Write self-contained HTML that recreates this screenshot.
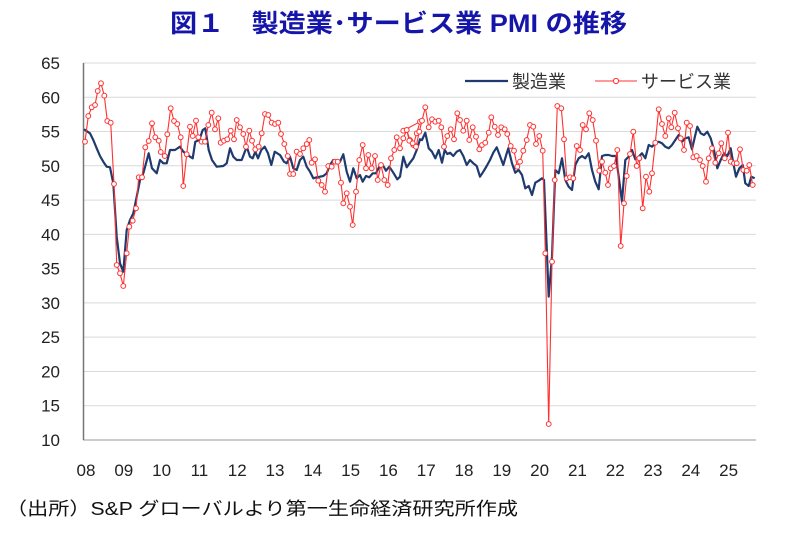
<!DOCTYPE html>
<html><head><meta charset="utf-8"><style>
body{margin:0;background:#fff;width:787px;height:533px;overflow:hidden}
svg{display:block}
text{font-family:"Liberation Sans","Noto Sans CJK JP",sans-serif}
</style></head><body>
<svg id="s" width="787" height="533" xmlns="http://www.w3.org/2000/svg">
<text x="170" y="32" font-size="25" font-weight="bold" fill="#1515aa" textLength="457" lengthAdjust="spacingAndGlyphs">図１　製造業･サービス業 PMI の推移</text>
<g id="grid"></g>
<g id="ylab" font-size="17" fill="#222" text-anchor="end"></g>
<g id="xlab" font-size="17" fill="#222" text-anchor="middle"></g>
<line x1="83.5" y1="63" x2="83.5" y2="440" stroke="#777" stroke-width="1.5"/>
<polyline id="blue" fill="none" stroke="#1f3a6e" stroke-width="2.2" stroke-linejoin="round"/>
<polyline id="red" fill="none" stroke="#ff3030" stroke-width="1.1"/>
<g id="dots" fill="#fff" stroke="#ff3030" stroke-width="1"></g>
<line x1="465" y1="81" x2="508" y2="81" stroke="#1f3a6e" stroke-width="2.2"/>
<text x="512" y="88" font-size="18" fill="#333">製造業</text>
<line x1="595" y1="81" x2="637" y2="81" stroke="#ff3030" stroke-width="1.1"/>
<circle cx="616" cy="81" r="2.6" fill="#fff" stroke="#ff3030"/>
<text x="641" y="88" font-size="18" fill="#333">サービス業</text>
<text x="6" y="515" font-size="18" fill="#111" textLength="512" lengthAdjust="spacingAndGlyphs">（出所）S&amp;P グローバルより第一生命経済研究所作成</text>
</svg>
<script>
var NS="http://www.w3.org/2000/svg";
function el(t,a,p){var e=document.createElementNS(NS,t);for(var k in a)e.setAttribute(k,a[k]);if(p)document.getElementById(p).appendChild(e);return e;}
for(var v=10;v<=65;v+=5){var y=440-(v-10)*6.855;
 el("line",{x1:83,x2:756,y1:y,y2:y,stroke:v==10?"#999":"#d9d9d9","stroke-width":1},"grid");
 var t=el("text",{x:60,y:y+6},"ylab");t.textContent=v;}
var yrs=["08","09","10","11","12","13","14","15","16","17","18","19","20","21","22","23","24","25"];
yrs.forEach(function(s,i){var t=el("text",{x:86+i*37.8,y:476},"xlab");t.textContent=s;});
function z1(p){return [60+p[0]/3,50+p[1]/3];}
function z2(p){return [400+p[0]/3,50+p[1]/3];}
var r1=[[75,275],[85,198],[95,172],[105,165],[113,123],[123,100],[133,137],[142,213],[152,218],[162,402],[170,645],[180,670],[190,708],[200,610],[208,530],[218,512],[228,475],[236,382],[246,382],[256,292],[266,273],[276,220],[286,262],[296,272],[302,306],[314,318],[322,253],[332,175],[342,213],[352,222],[362,262],[370,408],[380,313],[390,230],[398,258],[408,212],[415,262],[425,275],[435,275],[445,225],[455,188],[465,238],[475,205],[482,278],[492,272],[502,268],[512,242],[522,268],[530,210],[540,232],[550,252],[558,290],[568,242],[576,272],[586,298],[596,290],[605,250],[615,192],[625,195],[635,218],[645,222],[655,218],[663,252],[673,282],[683,318],[690,372],[700,372],[710,305],[720,312],[730,295],[740,282],[748,270],[755,338],[765,328],[775,392],[785,405],[795,425],[805,348],[815,350],[825,335],[833,335],[843,398],[850,460],[860,430],[870,470],[878,525],[888,425],[898,330],[908,285],[918,355],[925,315],[935,355],[945,318],[953,390],[963,345],[973,390],[983,405],[993,325],[1003,300],[1010,262],[1020,295],[1030,265],[1040,240],[1050,270],[1060,285],[1070,250],[1080,215]];
var r2=[[10,242],[20,240],[28,272],[38,280],[48,290],[58,245],[66,212],[76,172],[86,232],[96,208],[106,215],[116,212],[124,232],[132,290],[142,258],[152,238],[162,268],[172,190],[180,210],[190,242],[200,212],[208,270],[218,232],[228,260],[238,298],[246,285],[256,278],[266,248],[274,202],[284,230],[294,255],[304,232],[314,238],[322,252],[332,288],[342,302],[352,350],[360,335],[370,302],[380,270],[390,225],[400,230],[408,282],[418,258],[428,302],[436,610],[446,1122],[456,635],[464,390],[472,168],[484,175],[492,268],[500,385],[510,382],[520,385],[530,288],[540,300],[548,225],[558,238],[568,190],[578,210],[588,272],[598,362],[606,335],[616,368],[624,405],[632,355],[642,348],[652,300],[662,588],[672,460],[680,378],[690,312],[700,245],[710,348],[718,325],[728,475],[738,380],[748,425],[756,370],[766,278],[776,178],[786,222],[796,258],[806,205],[814,232],[824,188],[834,235],[842,265],[852,300],[860,218],[870,228],[880,322],[890,318],[900,330],[908,348],[918,395],[926,325],[936,295],[946,338],[956,310],[964,280],[974,325],[984,248],[992,335],[1002,340],[1010,340],[1020,298],[1030,360],[1040,362],[1048,345],[1058,405]];
var b1=[[72,238],[90,250],[100,270],[110,295],[120,318],[130,335],[140,350],[150,352],[160,400],[170,560],[180,640],[190,665],[200,540],[210,510],[220,490],[230,440],[240,390],[250,370],[258,340],[266,310],[276,355],[290,370],[300,330],[310,340],[320,340],[330,300],[345,300],[360,290],[370,305],[380,312],[390,320],[398,325],[406,275],[418,270],[428,240],[436,235],[446,300],[456,330],[470,350],[490,348],[500,340],[510,295],[520,320],[530,330],[545,330],[560,290],[570,320],[578,325],[586,305],[594,325],[604,300],[614,290],[624,310],[634,345],[644,305],[660,315],[672,335],[680,340],[690,320],[700,355],[710,360],[720,330],[730,320],[740,350],[750,365],[760,385],[770,382],[780,380],[790,378],[800,370],[810,345],[820,330],[830,340],[840,335],[850,313],[860,365],[870,395],[880,355],[890,385],[900,375],[908,395],[918,378],[928,382],[938,370],[948,370],[958,350],[968,345],[978,362],[988,350],[1000,368],[1012,388],[1020,380],[1030,320],[1040,352],[1050,338],[1060,325],[1070,300],[1080,268]];
var b2=[[66,270],[76,248],[86,295],[96,305],[106,325],[116,300],[126,338],[134,300],[142,312],[150,308],[160,318],[170,305],[180,300],[190,318],[200,345],[210,330],[220,340],[230,348],[240,380],[250,365],[260,348],[270,330],[280,308],[290,292],[300,318],[310,345],[320,310],[325,295],[336,340],[346,368],[356,360],[366,375],[376,415],[386,408],[396,435],[406,398],[416,392],[426,385],[432,390],[446,740],[456,620],[466,360],[476,370],[486,325],[496,390],[506,410],[516,420],[526,345],[536,325],[546,318],[556,325],[566,310],[576,360],[586,395],[596,418],[606,318],[616,315],[626,315],[636,318],[648,318],[656,380],[666,455],[676,330],[686,320],[696,300],[706,328],[716,320],[726,310],[736,325],[746,285],[756,290],[766,280],[776,275],[786,280],[796,290],[806,295],[816,285],[826,270],[836,255],[846,275],[856,265],[866,262],[876,298],[886,255],[892,230],[902,250],[912,255],[922,245],[932,265],[942,300],[952,355],[962,330],[972,310],[982,318],[992,295],[1000,340],[1008,380],[1018,355],[1028,345],[1036,400],[1046,408],[1054,380],[1064,385]];
var R=r1.map(z1).concat(r2.map(z2)), B=b1.map(z1).concat(b2.map(z2));
document.getElementById("red").setAttribute("points",R.map(function(p){return p[0].toFixed(1)+","+p[1].toFixed(1)}).join(" "));
document.getElementById("blue").setAttribute("points",B.map(function(p){return p[0].toFixed(1)+","+p[1].toFixed(1)}).join(" "));
R.forEach(function(p){el("circle",{cx:p[0].toFixed(1),cy:p[1].toFixed(1),r:2.4},"dots");});
</script>
</body></html>
